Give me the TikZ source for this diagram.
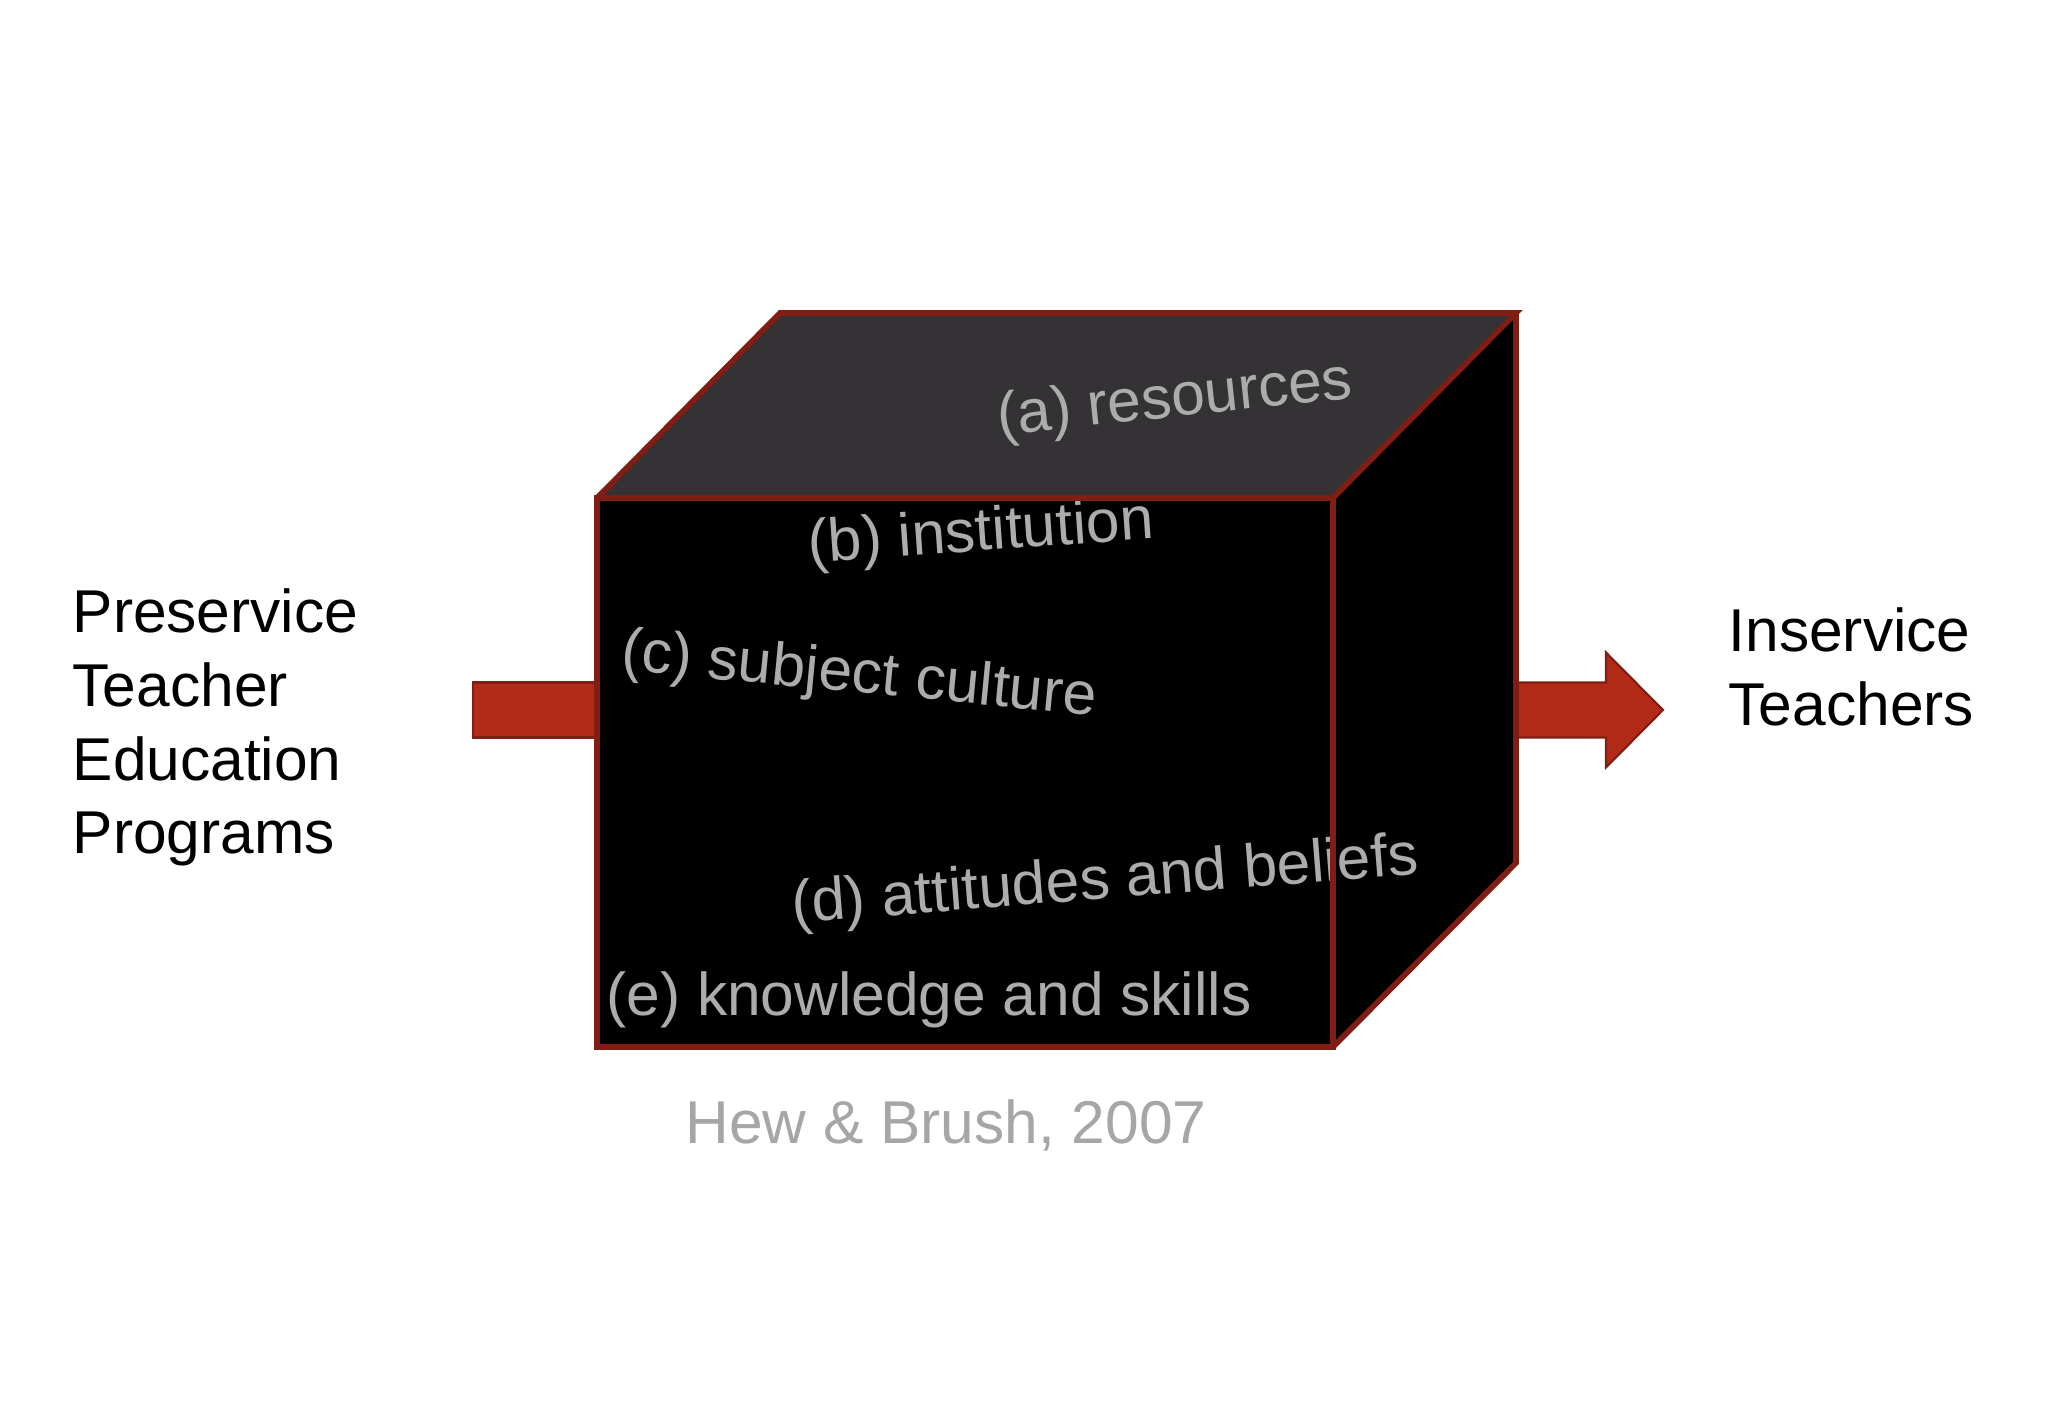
\documentclass[tikz,border=0pt]{standalone}
\usepackage{fontspec}
\setmainfont{Liberation Sans}
\usetikzlibrary{positioning,calc}
\definecolor{cubeedge}{RGB}{128,30,20}
\definecolor{arrowred}{RGB}{178,42,24}
\definecolor{topgray}{RGB}{52,50,53}
\definecolor{labelgray}{RGB}{172,172,172}
\definecolor{citegray}{RGB}{166,166,166}

\begin{document}
\begin{tikzpicture}[
  edge/.style={draw=cubeedge, line width=1.6pt, line join=miter},
  boxlabel/.style={text=labelgray, font=\fontsize{17.2}{21}\selectfont, inner sep=0pt},
  sidetext/.style={align=left, font=\fontsize{17.2}{21}\selectfont, inner sep=0pt},
  fatarrow/.style={fill=arrowred, draw=cubeedge, line width=0.6pt}
]
  \useasboundingbox (0,0) rectangle (20.48,14.18);
  % Cube corners
  \coordinate (fsw) at (5.97,3.71);
  \coordinate (fse) at (13.33,3.71);
  \coordinate (fne) at (13.33,9.20);
  \coordinate (fnw) at (5.97,9.20);
  \coordinate (bnw) at (7.80,11.05);
  \coordinate (bne) at (15.16,11.05);
  \coordinate (bse) at (15.16,5.55);
  % Block arrows in and out
  \coordinate (intail) at (4.73,7.08);
  \coordinate (outtip) at (16.63,7.08);
  \filldraw[fatarrow] ($(intail)+(0,0.275)$) -- ($(intail)+(0,-0.275)$)
    -- ($(fsw |- intail)+(0,-0.275)$) -- ($(fsw |- intail)+(0,0.275)$) -- cycle;
  \filldraw[fatarrow] ($(bse |- outtip)+(-0.2,0.275)$) -- ++(1.1,0) -- ++(0,0.3)
    -- (outtip) -- ++(-0.57,-0.575) -- ++(0,0.3) -- ++(-1.1,0) -- cycle;
  % Faces
  \fill[topgray] (fnw) -- (bnw) -- (bne) -- (fne) -- cycle;
  \fill[black] (fne) -- (bne) -- (bse) -- (fse) -- cycle;
  \fill[black] (fsw) rectangle (fne);
  % Factors
  \node[boxlabel, rotate=6] (res) at (11.75,10.17) {(a) resources};
  \node[boxlabel, rotate=4] (inst) at (9.81,8.83) {(b) institution};
  \node[boxlabel, rotate=-5.5] (subj) at (8.59,7.41) {(c) subject culture};
  \node[boxlabel, rotate=4.5] (att) at (11.05,5.35) {(d) attitudes and beliefs};
  \node[boxlabel] (know) at (9.29,4.18) {(e) knowledge and skills};
  % Edges
  \draw[edge] (fsw) -- (fse) -- (fne) -- (fnw) -- cycle;
  \draw[edge] (fnw) -- (bnw) -- (bne) -- (fne);
  \draw[edge] (bne) -- (bse) -- (fse);
  % Side texts
  \node[sidetext, anchor=north west] (pre) at (0.72,8.30) {Preservice\\Teacher\\Education\\Programs};
  \node[sidetext, anchor=north west] (inserv) at (17.28,8.11) {Inservice\\Teachers};
  \node[boxlabel, text=citegray, anchor=base] (cite) at (9.46,2.74) {Hew \& Brush, 2007};
\end{tikzpicture}
\end{document}
